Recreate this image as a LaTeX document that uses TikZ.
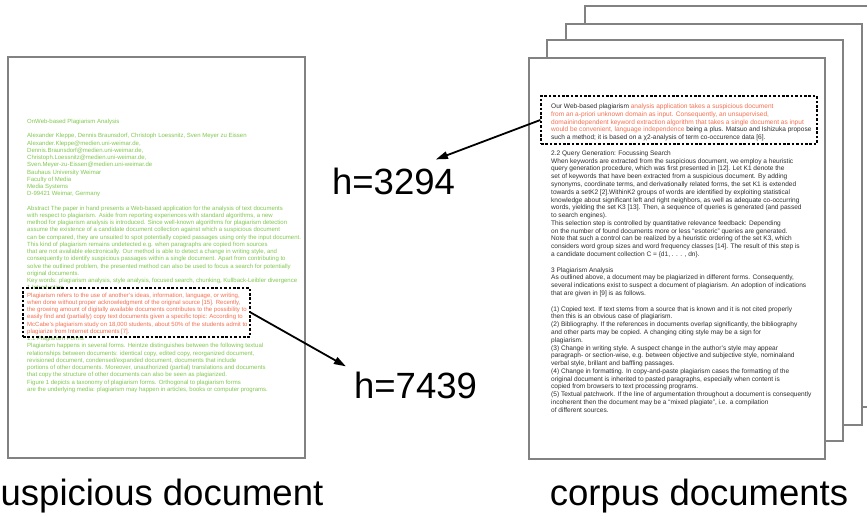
\documentclass[tikz,border=0pt]{standalone}
\usepackage{fontspec}
\setmainfont{Liberation Sans}
\usetikzlibrary{arrows.meta}
\definecolor{docgreen}{RGB}{128,200,80}
\definecolor{docorange}{RGB}{245,112,80}
\definecolor{docgray}{RGB}{130,130,130}
\definecolor{doctext}{RGB}{45,45,45}
\begin{document}
\begin{tikzpicture}[x=1pt,y=-1pt,
  page/.style={draw=docgray, line width=1.6pt, fill=white},
  dbox/.style={draw=black, line width=1.3pt, dash pattern=on 2.6pt off 1.8pt, inner sep=0pt},
  ltext/.style={anchor=north west, inner sep=0pt, align=left, font=\fontsize{6}{7.24}\selectfont, text=docgreen},
  rtext/.style={anchor=north west, inner sep=0pt, align=left, font=\fontsize{6.55}{7.79}\selectfont, text=doctext},
  big/.style={font=\fontsize{36.5}{40}\selectfont, text=black},
  conn/.style={line width=1.8pt, -{Triangle[length=12pt,width=7.5pt]}}]
\useasboundingbox (0,0) rectangle (867,513);
\clip (0,0) rectangle (867,513);

% suspicious document
\draw[page] (8,57) rectangle (305,458);
\node[ltext] (lt) at (27,118.1) {\strut OnWeb-based Plagiarism Analysis\\[7.24pt]
Alexander Kleppe, Dennis Braunsdorf, Christoph Loessnitz, Sven Meyer zu Eissen\\
Alexander.Kleppe@medien.uni-weimar.de,\\
Dennis.Braunsdorf@medien.uni-weimar.de,\\
Christoph.Loessnitz@medien.uni-weimar.de,\\
Sven.Meyer-zu-Eissen@medien.uni-weimar.de\\
Bauhaus University Weimar\\
Faculty of Media\\
Media Systems\\
D-99421 Weimar, Germany\\[7.24pt]
Abstract The paper in hand presents a Web-based application for the analysis of text documents\\
with respect to plagiarism. Aside from reporting experiences with standard algorithms, a new\\
method for plagiarism analysis is introduced. Since well-known algorithms for plagiarism detection\\
assume the existence of a candidate document collection against which a suspicious document\\
can be compared, they are unsuited to spot potentially copied passages using only the input document.\\
This kind of plagiarism remains undetected e.g. when paragraphs are copied from sources\\
that are not available electronically. Our method is able to detect a change in writing style, and\\
consequently to identify suspicious passages within a single document. Apart from contributing to\\
solve the outlined problem, the presented method can also be used to focus a search for potentially\\
original documents.\\
Key words: plagiarism analysis, style analysis, focused search, chunking, Kullback-Leibler divergence\\
1 Introduction\\
\color{docorange}Plagiarism refers to the use of another's ideas, information, language, or writing,\\
\color{docorange}when done without proper acknowledgment of the original source [15]. Recently,\\
\color{docorange}the growing amount of digitally available documents contributes to the possibility to\\
\color{docorange}easily find and (partially) copy text documents given a specific topic: According to\\
\color{docorange}McCabe's plagiarism study on 18,000 students, about 50\% of the students admit to\\
\color{docorange}plagiarize from Internet documents [7].\\
\color{docgreen}1.1 Plagiarism Forms\\
\color{docgreen}Plagiarism happens in several forms. Heintze distinguishes between the following textual\\
relationships between documents: identical copy, edited copy, reorganized document,\\
revisioned document, condensed/expanded document, documents that include\\
portions of other documents. Moreover, unauthorized (partial) translations and documents\\
that copy the structure of other documents can also be seen as plagiarized.\\
Figure 1 depicts a taxonomy of plagiarism forms. Orthogonal to plagiarism forms\\
are the underlying media: plagiarism may happen in articles, books or computer programs.};
\node[dbox, minimum width=227pt, minimum height=49pt] (box7) at (136.5,312.5) {};

% corpus documents
\draw[page] (585,6) rectangle (881,407);
\draw[page] (566,24) rectangle (862,425);
\draw[page] (547,40) rectangle (843,441);
\draw[page] (529,58) rectangle (825,459);
\node[rtext] (rt) at (551,102.9) {\strut Our Web-based plagiarism \color{docorange}analysis application takes a suspicious document\\
\color{docorange}from an a-priori unknown domain as input. Consequently, an unsupervised,\\
\color{docorange}domainindependent keyword extraction algorithm that takes a single document as input\\
\color{docorange}would be convenient, language independence \color{doctext}being a plus. Matsuo and Ishizuka propose\\
\color{doctext}such a method; it is based on a χ2-analysis of term co-occurence data [6].\\[7.79pt]
2.2 Query Generation: Focussing Search\\
When keywords are extracted from the suspicious document, we employ a heuristic\\
query generation procedure, which was first presented in [12]. Let K1 denote the\\
set of keywords that have been extracted from a suspicious document. By adding\\
synonyms, coordinate terms, and derivationally related forms, the set K1  is extended\\
towards a setK2 [2].WithinK2 groups of words are identified by exploiting statistical\\
knowledge about significant left and right neighbors, as well as adequate co-occurring\\
words, yielding the set K3 [13]. Then, a sequence of queries is generated (and passed\\
to search engines).\\
This selection step is controlled by quantitative relevance feedback: Depending\\
on the number of found documents more or less “esoteric” queries are generated.\\
Note that such a control can be realized by a heuristic ordering of the set K3, which\\
considers word group sizes and word frequency classes [14]. The result of this step is\\
a candidate document collection C = \{d1, . . . , dn\}.\\[7.79pt]
3 Plagiarism Analysis\\
As outlined above, a document may be plagiarized in different forms. Consequently,\\
several indications exist to suspect a document of plagiarism. An adoption of indications\\
that are given in [9] is as follows.\\[7.79pt]
(1) Copied text. If text stems from a source that is known and it is not cited properly\\
then this is an obvious case of plagiarism.\\
(2) Bibliography. If the references in documents overlap significantly, the bibliography\\
and other parts may be copied. A changing citing style may be a sign for\\
plagiarism.\\
(3) Change in writing style. A suspect change in the author's style may appear\\
paragraph- or section-wise, e.g. between objective and subjective style, nominaland\\
verbal style, brillant and baffling passages.\\
(4) Change in formatting. In copy-and-paste plagiarism cases the formatting of the\\
original document is inherited to pasted paragraphs, especially when content is\\
copied from browsers to text processing programs.\\
(5) Textual patchwork. If the line of argumentation throughout a document is consequently\\
incoherent then the document may be a “mixed plagiate”, i.e. a compilation\\
of different sources.};
\node[dbox, minimum width=276pt, minimum height=48pt] (box3) at (679,120) {};

% labels and connectors
\node[big, inner xsep=8pt, inner ysep=6pt] (lab7) at (415.5,385) {h=7439};
\node[big, inner xsep=8pt, inner ysep=8pt] (lab3) at (393.5,181) {h=3294};
\draw[conn] (box7.east) -- (lab7.165);
\draw[conn] (box3.west) -- (lab3.27);

\node[big, anchor=base west, inner sep=0pt] (lsus) at (0.5,505) {uspicious document};
\node[big, anchor=base, inner sep=0pt] (lcor) at (699,505) {corpus documents};
\end{tikzpicture}
\end{document}
